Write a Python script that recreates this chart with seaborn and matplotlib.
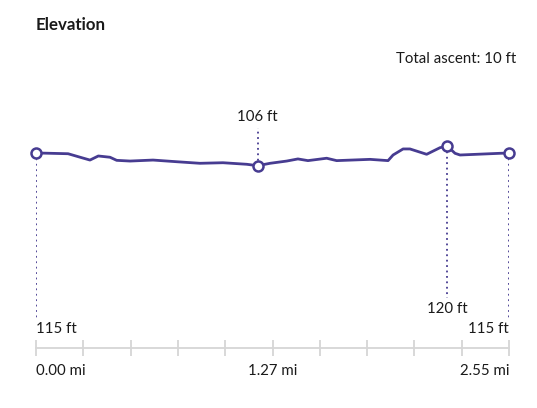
#!/usr/bin/env python3
"""
Elevation profile (distance vs elevation) with start / min / max / end markers.
"""

import numpy as np
import pandas as pd
import seaborn as sns
import matplotlib
matplotlib.use("Agg")
import matplotlib.pyplot as plt

# --- Data ---
distance_mi = [0.000, 0.049, 0.173, 0.246, 0.291, 0.336, 0.399, 0.435, 0.507,
               0.631, 0.760, 0.884, 1.008, 1.136, 1.195, 1.262, 1.352, 1.412,
               1.466, 1.567, 1.621, 1.801, 1.898, 1.925, 1.979, 2.016, 2.106,
               2.178, 2.217, 2.259, 2.286, 2.501, 2.550]
elevation_ft = [115.0, 114.9, 114.5, 111.7, 110.0, 112.9, 112.0, 109.8, 109.3,
                110.0, 108.8, 107.7, 108.1, 107.0, 106.0, 107.7, 109.3, 110.8,
                109.6, 111.3, 109.6, 110.5, 109.6, 113.6, 117.9, 117.9, 114.1,
                118.8, 120.0, 114.8, 113.6, 114.8, 115.0]
total_distance = 2.55
total_ascent = 10
tick_labels = ["0.00 mi", "", "", "", "", "1.27 mi", "", "", "", "", "2.55 mi"]

LINE = "#473c91"
GRID = "#d6d6d6"
TEXT = "#1a1a1a"


def plot_elevation():
    df = pd.DataFrame({"distance": distance_mi, "elevation": elevation_ft})

    sns.set_theme(style="white")
    plt.rcParams["font.family"] = ["Lato", "DejaVu Sans"]

    fig = plt.figure(figsize=(5.37, 4.08), dpi=100)
    fig.patch.set_facecolor("white")
    # axes: x 36..509 px, y 100..348 px (from top)
    ax = fig.add_axes([36 / 537, (408 - 347.7) / 408, 473 / 537, 247.7 / 408])
    ax.set_facecolor("white")

    sns.lineplot(data=df, x="distance", y="elevation", ax=ax, color=LINE,
                 linewidth=2.0, solid_capstyle="round", solid_joinstyle="round")

    start = df.iloc[0]
    end = df.iloc[-1]
    lo = df.loc[df["elevation"].idxmin()]
    hi = df.loc[df["elevation"].idxmax()]

    trans = ax.get_xaxis_transform()
    ax.set_xlim(0, total_distance)
    ax.set_ylim(-23.4, 152.7)

    # dotted guide lines (far end given in axes fraction)
    def guide(x, y, frac):
        yd = ax.transData.inverted().transform(
            ax.transAxes.transform((0, frac)))[1]
        ax.plot([x, x], [y, yd], linestyle=(0, (1.0, 2.0)), color=LINE,
                linewidth=1.3, zorder=2)

    guide(start["distance"], start["elevation"], 0.12)
    guide(end["distance"], end["elevation"], 0.12)
    guide(hi["distance"], hi["elevation"], 0.20)
    guide(lo["distance"], lo["elevation"], 0.887)

    pts = pd.DataFrame([start, lo, hi, end])
    ax.scatter(pts["distance"], pts["elevation"], s=52, facecolor="white",
               edgecolor=LINE, linewidth=1.8, zorder=5, clip_on=False)

    fs = 10.8
    ax.text(start["distance"], 0.0735, f"{start['elevation']:.0f} ft", transform=trans,
            ha="left", va="center", fontsize=fs, color=TEXT)
    ax.text(end["distance"], 0.0735, f"{end['elevation']:.0f} ft", transform=trans,
            ha="right", va="center", fontsize=fs, color=TEXT)
    ax.text(hi["distance"], 0.1562, f"{hi['elevation']:.0f} ft", transform=trans,
            ha="center", va="center", fontsize=fs, color=TEXT)
    ax.text(lo["distance"], 0.9314, f"{lo['elevation']:.0f} ft", transform=trans,
            ha="center", va="center", fontsize=fs, color=TEXT)

    # x axis
    ticks = np.linspace(0, total_distance, len(tick_labels))
    ax.set_xticks(ticks)
    ax.set_xticklabels(tick_labels)
    ax.set_yticks([])
    ax.set_xlabel("")
    ax.set_ylabel("")
    for name, spine in ax.spines.items():
        spine.set_visible(name == "bottom")
    ax.spines["bottom"].set_color(GRID)
    ax.spines["bottom"].set_linewidth(1.3)
    ax.tick_params(axis="x", bottom=True, direction="inout", length=12, width=1.3,
                   color=GRID, pad=6, labelsize=fs, labelcolor=TEXT)
    labels = ax.get_xticklabels()
    labels[0].set_ha("left")
    labels[-1].set_ha("right")

    fig.text(36 / 537, 1 - 25 / 408, "Elevation", ha="left", va="center",
             fontsize=12.2, fontweight="bold", color=TEXT)
    fig.text(516 / 537, 1 - 59 / 408, f"Total ascent: {total_ascent} ft",
             ha="right", va="center", fontsize=fs, color=TEXT)

    fig.savefig("out.png", dpi=100, facecolor="white")


if __name__ == "__main__":
    plot_elevation()
